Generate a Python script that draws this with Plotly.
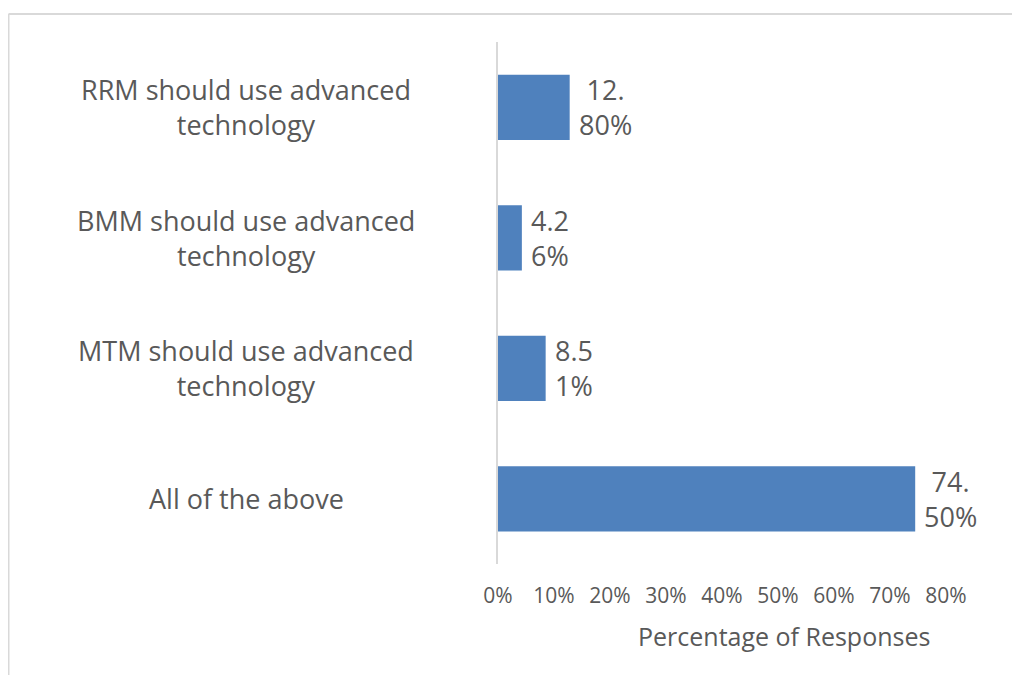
import plotly.graph_objects as go

categories = ["RRM should use advanced<br>technology",
              "BMM should use advanced<br>technology",
              "MTM should use advanced<br>technology",
              "All of the above"]
values = [12.80, 4.26, 8.51, 74.50]
value_labels = ["12.<br>80%", "4.2<br>6%", "8.5<br>1%", "74.<br>50%"]
tick_vals = [0, 10, 20, 30, 40, 50, 60, 70, 80]
tick_text = ["0%", "10%", "20%", "30%", "40%", "50%", "60%", "70%", "80%"]
x_title = "Percentage of Responses"

# page body has an 8px margin, so figure coords = screen coords - 8
OFF = 8
W, H = 1020 - OFF, 675 - OFF
L, R, T, B = 498 - OFF, W - (946 - OFF), 42 - OFF, H - (564 - OFF)
pw, ph = W - L - R, H - T - B
FONT = "Open Sans"
GRAY = "#595959"

fig = go.Figure(go.Bar(
    y=categories, x=values, orientation="h",
    marker=dict(color="#4F81BD", line=dict(width=0)),
    width=0.5,
))

ann = []
for c in categories:
    ann.append(dict(x=(246 - OFF - L) / pw, xref="paper", y=c, yref="y",
                    text=c, showarrow=False, xanchor="center", yanchor="middle",
                    align="center", font=dict(family=FONT, size=27, color=GRAY)))
for c, v, t in zip(categories, values, value_labels):
    ann.append(dict(x=v, xref="x", y=c, yref="y", text=t, showarrow=False,
                    xanchor="left", yanchor="middle", align="center", xshift=7,
                    font=dict(family=FONT, size=27, color=GRAY)))
ann.append(dict(x=(784 - OFF - L) / pw, xref="paper",
                y=-(636 - 564) / ph, yref="paper",
                text=x_title, showarrow=False, xanchor="center", yanchor="middle",
                font=dict(family=FONT, size=25, color=GRAY)))

top_y = 1 + (42 - 14) / ph
shapes = [
    dict(type="line", xref="paper", yref="paper",
         x0=(0.5 - L) / pw, x1=(W + 5 - L) / pw, y0=top_y, y1=top_y,
         line=dict(color="#D9D9D9", width=2)),
    dict(type="line", xref="paper", yref="paper",
         x0=(0.5 - L) / pw, x1=(0.5 - L) / pw, y0=top_y, y1=-(B + 20) / ph,
         line=dict(color="#D9D9D9", width=2)),
]

fig.update_layout(
    width=W, height=H,
    margin=dict(l=L, r=R, t=T, b=B, pad=0),
    paper_bgcolor="white", plot_bgcolor="white",
    showlegend=False,
    annotations=ann, shapes=shapes,
    xaxis=dict(range=[0, 80], tickvals=tick_vals, ticktext=tick_text,
               showgrid=False, zeroline=False, showline=False,
               ticks="", ticklabelstandoff=17,
               tickfont=dict(family=FONT, size=21, color=GRAY)),
    yaxis=dict(autorange="reversed", showticklabels=False, ticks="",
               showgrid=False, zeroline=False,
               showline=True, linecolor="#D9D9D9", linewidth=1.5),
)

fig.write_html("out.html")
